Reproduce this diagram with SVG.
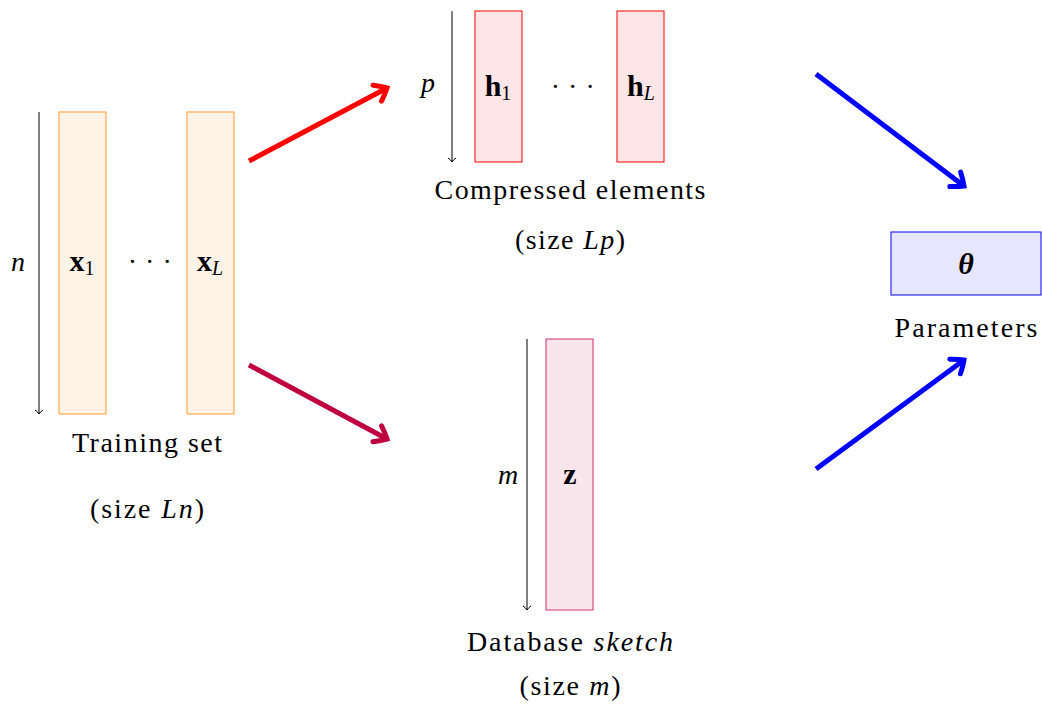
<svg xmlns="http://www.w3.org/2000/svg" width="1042" height="705" viewBox="0 0 1042 705">
<style>
text{font-family:"Liberation Serif","DejaVu Serif",serif;font-size:28px;fill:#000;text-anchor:middle}
.it{font-style:italic}
.b{font-weight:bold;font-size:30px}
.sub{font-size:20px}
.dots{letter-spacing:0.5px}
.thin{stroke:#000;stroke-width:1;fill:none}
.big{fill:none;stroke-width:5;stroke-linecap:butt}
</style>
<defs>
<marker id="th" markerUnits="userSpaceOnUse" markerWidth="12" markerHeight="12" refX="6" refY="6" orient="auto" overflow="visible">
<path d="M2,2 Q4,5 6,6 Q4,7 2,10" fill="none" stroke="#000" stroke-width="1"/>
</marker>
<marker id="ar" markerUnits="userSpaceOnUse" markerWidth="20" markerHeight="20" refX="10" refY="10" orient="auto" overflow="visible">
<path d="M-1,1 Q6,6 10,10 Q6,14 -1,19" fill="none" stroke="#ff0000" stroke-width="5" stroke-linecap="round"/>
</marker>
<marker id="ap" markerUnits="userSpaceOnUse" markerWidth="20" markerHeight="20" refX="10" refY="10" orient="auto" overflow="visible">
<path d="M-1,1 Q6,6 10,10 Q6,14 -1,19" fill="none" stroke="#bf0040" stroke-width="5" stroke-linecap="round"/>
</marker>
<marker id="ab" markerUnits="userSpaceOnUse" markerWidth="20" markerHeight="20" refX="10" refY="10" orient="auto" overflow="visible">
<path d="M-1,1 Q6,6 10,10 Q6,14 -1,19" fill="none" stroke="#0000ff" stroke-width="5" stroke-linecap="round"/>
</marker>
</defs>
<g id="training">
<line class="thin" x1="39" y1="112" x2="39" y2="414" marker-end="url(#th)"/>
<text x="18" y="271" class="it">n</text>
<rect x="59" y="112" width="47" height="302" fill="#fff2e6" stroke="#ff9933" stroke-width="1"/>
<rect x="187" y="112" width="47" height="302" fill="#fff2e6" stroke="#ff9933" stroke-width="1"/>
<text x="82" y="271"><tspan class="b">x</tspan><tspan class="sub" dy="4">1</tspan></text>
<text x="150" y="271" class="dots">· · ·</text>
<text x="210" y="271"><tspan class="b">x</tspan><tspan class="sub it" dy="4">L</tspan></text>
<text x="147" y="452" textLength="150" lengthAdjust="spacing">Training set</text>
<text x="147" y="518" textLength="114" lengthAdjust="spacing">(size <tspan class="it">Ln</tspan>)</text>
</g>
<g id="compressed">
<line class="thin" x1="452" y1="11" x2="452" y2="162" marker-end="url(#th)"/>
<text x="428" y="92" class="it">p</text>
<rect x="475" y="11" width="47" height="151" fill="#ffe6e6" stroke="#ff0000" stroke-width="1"/>
<rect x="617" y="11" width="47" height="151" fill="#ffe6e6" stroke="#ff0000" stroke-width="1"/>
<text x="498" y="96"><tspan class="b">h</tspan><tspan class="sub" dy="4">1</tspan></text>
<text x="573" y="96" class="dots">· · ·</text>
<text x="641" y="96"><tspan class="b">h</tspan><tspan class="sub it" dy="4">L</tspan></text>
<text x="570" y="199" textLength="271" lengthAdjust="spacing">Compressed elements</text>
<text x="570" y="249" textLength="110" lengthAdjust="spacing">(size <tspan class="it">Lp</tspan>)</text>
</g>
<g id="sketch">
<line class="thin" x1="527" y1="339" x2="527" y2="610" marker-end="url(#th)"/>
<text x="508" y="484" class="it">m</text>
<rect x="546" y="339" width="47" height="271" fill="#f9e6ed" stroke="#d0306a" stroke-width="1"/>
<text x="570" y="484" class="b">z</text>
<text x="570" y="651" textLength="206" lengthAdjust="spacing">Database <tspan class="it">sketch</tspan></text>
<text x="570" y="695" textLength="101" lengthAdjust="spacing">(size <tspan class="it">m</tspan>)</text>
</g>
<g id="parameters">
<rect x="891" y="232" width="150" height="63" fill="#e6e6ff" stroke="#0000ff" stroke-width="1"/>
<text x="966" y="274" class="b it">θ</text>
<text x="966" y="337" textLength="143" lengthAdjust="spacing">Parameters</text>
</g>
<g id="connectors">
<line class="big" stroke="#ff0000" x1="249" y1="161" x2="387" y2="88" marker-end="url(#ar)"/>
<line class="big" stroke="#bf0040" x1="249" y1="365" x2="387" y2="439" marker-end="url(#ap)"/>
<line class="big" stroke="#0000ff" x1="816" y1="74" x2="964" y2="186" marker-end="url(#ab)"/>
<line class="big" stroke="#0000ff" x1="816" y1="469" x2="964" y2="360" marker-end="url(#ab)"/>
</g>
</svg>
